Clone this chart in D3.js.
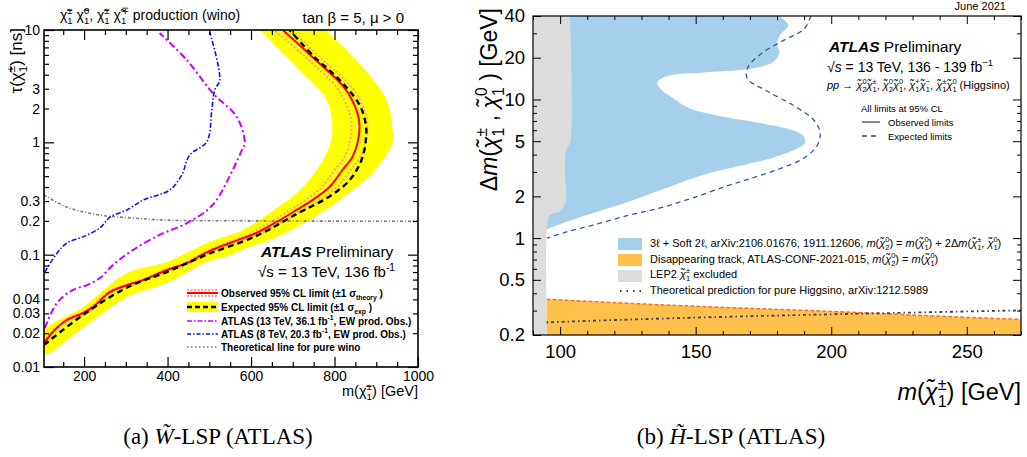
<!DOCTYPE html>
<html>
<head>
<script src="https://d3js.org/d3.v7.min.js"></script>
<style>
body {margin: 0; background-color: #fff; overflow: hidden;}
text {font-family: "Liberation Sans", Arial, sans-serif;}
</style>
</head>
<body>
<div id="canvas"></div>
<script type="text/javascript">

// ---------- left panel: wino LSP (tau vs chargino mass) ----------
var winoObsM   = [104,125,159,197,221,262,303,341,398,446,494,549,613,669,709,747,788,819,843,855,860,855,824,747,676];
var winoObsTau = [0.0163,0.0205,0.0262,0.0302,0.0341,0.0465,0.0536,0.0594,0.073,0.0841,0.105,0.127,0.156,0.203,0.25,0.306,0.40,0.567,0.74,0.986,1.37,1.82,3.05,5.75,10];
var winoObsLoM = [104,122,155,193,217,257,298,336,393,440,487,540,602,655,693,730,770,800,824,836,841,836,806,730,655];
var winoObsHiM = [106,128,163,201,225,267,308,346,403,452,501,558,624,683,725,764,806,838,862,874,879,874,842,764,697];

var winoExpM   = [104,197,303,398,494,613,709,788,836,865,875,875,860,812,752,692];
var winoExpTau = [0.0157,0.029,0.051,0.070,0.100,0.147,0.23,0.33,0.46,0.70,1.05,1.43,2.15,3.6,5.75,10];

var bandOuterM   = [779,867,925,939,939,891,812,740,645,597,549,494,398,303,197,104];
var bandOuterTau = [10,4.69,2.38,1.29,0.986,0.533,0.306,0.203,0.135,0.117,0.099,0.086,0.0559,0.0419,0.0222,0.013];
var bandInnerM   = [104,197,303,398,494,580,645,724,781,795,781,709,621];
var bandInnerTau = [0.0209,0.0341,0.0686,0.086,0.127,0.166,0.235,0.40,0.80,1.29,2.38,4.69,10];

var atlas13M   = [106,135,173,207,238,269,317,381,446,508,556,578,585,566,508,446,381];
var atlas13Tau = [0.0222,0.0371,0.0484,0.0536,0.0619,0.0807,0.110,0.150,0.191,0.277,0.567,0.853,0.986,1.68,2.75,5.4,9.4];

var atlas8M   = [106,135,159,197,238,262,303,341,405,434,453,494,506,513,525,501];
var atlas8Tau = [0.070,0.103,0.127,0.144,0.173,0.216,0.25,0.306,0.376,0.512,0.771,1.01,1.94,2.92,3.59,9.6];

var winoTheoM   = [104,159,238,317,398,597,1000];
var winoTheoTau = [0.34,0.265,0.225,0.212,0.203,0.200,0.198];

var winoMassTicks = [200,400,600,800,1000];
var winoTauLabels = [0.01,0.02,0.03,0.04,0.1,0.2,0.3,1,2,3,10];

// ---------- right panel: higgsino LSP (dm vs chargino mass) ----------
var softM  = [180.8,184.1,181.1,180.0,180.8,178.6,171.2,154.2,139.4,135.8,136.9,141.7,147.9,157.9,172.7,183.7,189.6,190.4,187.4,178.6,166.4,154.2,139.4,123.2,111.0,100,95.2];
var softDm = [40,34.4,29.1,25.5,21.6,18.6,16.8,15.7,14.7,13.3,12.0,10.2,8.6,7.67,6.82,6.17,5.49,4.89,4.42,3.80,3.33,2.91,2.31,1.77,1.49,1.26,1.16];

var softExpM  = [192.5,190.0,182.6,174.5,169.3,169.0,176.3,186.7,193.7,195.9,194.8,189.6,181.1,170.1,161.6,149.0,136.9,124.7,112.1,102.5,95.2];
var softExpDm = [40,32.2,26.8,21.6,17.1,14.2,11.5,8.91,7.05,5.77,4.65,3.74,3.17,2.68,2.38,1.95,1.65,1.45,1.24,1.11,1.0];

var lepM  = [103.65,103.65,102.5,101.8,102.2,100,96.3,95.2,95.2];
var lepDm = [40,4.8,4.5,2.91,1.86,1.57,1.47,1.22,0.2];

var dtM  = [95,150,200,250,270];
var dtDm = [0.362,0.322,0.296,0.268,0.259];

var higgsTheoM  = [95,150,200,270];
var higgsTheoDm = [0.247,0.267,0.282,0.301];

var higgsMassTicks = [100,150,200,250];
var higgsDmLabels = [0.2,0.5,1,2,5,10,20,40];
var higgsDmMinor = [0.3,0.4,0.6,0.7,0.8,0.9,3,4,6,7,8,9,30];

var CHI = "\u03C7\u0303";

function zip(a, b) { return a.map(function (v, i) { return [v, b[i]]; }); }
function chi(sup, sub, it) { return {c: CHI, sup: sup, sub: sub, ci: it}; }

// text with sub/superscripts built from tspans
function rich(g, x, y, fs, parts) {
    var t = g.append("text").attr("x", x).attr("y", y).attr("font-size", fs);
    var cur = 0, pend = 0;
    function span(str, off, scale) {
        var s = t.append("tspan").text(str).attr("dy", off - cur);
        if (scale) s.attr("font-size", fs * scale);
        if (pend) { s.attr("dx", pend); pend = 0; }
        cur = off;
        return s;
    }
    parts.forEach(function (p) {
        if (typeof p === "string") { span(p, 0); return; }
        if (p.i) { span(p.i, 0).attr("font-style", "italic"); return; }
        if (p.b) {
            var s = span(p.b, 0).attr("font-weight", "bold");
            if (p.it) s.attr("font-style", "italic");
            return;
        }
        if (p.c) {
            var c = span(p.c, 0);
            if (p.ci) c.attr("font-style", "italic");
        }
        var w = 0;
        if (p.sup != null) {
            var a = span(p.sup, -0.42 * fs, 0.68);
            w = a.node().getComputedTextLength();
        }
        if (p.sub != null) {
            var b = span(p.sub, 0.3 * fs, 0.68);
            if (p.sup != null) {
                b.attr("dx", -w);
                var w2 = b.node().getComputedTextLength();
                pend = Math.max(0, w - w2);
            }
        }
    });
    return t;
}

var svg = d3.select("#canvas").append("svg")
        .attr("width", 1027)
        .attr("height", 457);

// =================== LEFT PANEL ===================
var xL = d3.scaleLinear().domain([104, 1000]).range([44, 418]);
var yL = d3.scaleLog().domain([0.01, 10]).range([367, 30]);

var lineL = d3.line()
        .x(function (d) { return xL(d[0]); })
        .y(function (d) { return yL(d[1]); })
        .curve(d3.curveCatmullRom.alpha(0.5));

svg.append("clipPath").attr("id", "clipL")
    .append("rect").attr("x", 44).attr("y", 30).attr("width", 374).attr("height", 337);

var gL = svg.append("g");
var plotL = gL.append("g").attr("clip-path", "url(#clipL)");

// expected +-1 sigma band
plotL.append("path")
    .attr("d", lineL(zip(bandOuterM, bandOuterTau).concat(zip(bandInnerM, bandInnerTau))) + "Z")
    .attr("fill", "#ffff00");

plotL.append("path").attr("d", lineL(zip(winoTheoM, winoTheoTau)))
    .attr("fill", "none").attr("stroke", "#7a7a7a").attr("stroke-width", 1.6)
    .attr("stroke-dasharray", "3,2,1,2");

plotL.append("path").attr("d", lineL(zip(atlas13M, atlas13Tau)))
    .attr("fill", "none").attr("stroke", "#cc00ff").attr("stroke-width", 2)
    .attr("stroke-dasharray", "7,3,2,3");

plotL.append("path").attr("d", lineL(zip(atlas8M, atlas8Tau)))
    .attr("fill", "none").attr("stroke", "#1010ff").attr("stroke-width", 1.6)
    .attr("stroke-dasharray", "5,2,1.5,2");

[winoObsLoM, winoObsHiM].forEach(function (m) {
    plotL.append("path").attr("d", lineL(zip(m, winoObsTau)))
        .attr("fill", "none").attr("stroke", "#ff9a9a").attr("stroke-width", 2)
        .attr("stroke-dasharray", "2,2");
});

plotL.append("path").attr("d", lineL(zip(winoObsM, winoObsTau)))
    .attr("fill", "none").attr("stroke", "#ff0000").attr("stroke-width", 2);

plotL.append("path").attr("d", lineL(zip(winoExpM, winoExpTau)))
    .attr("fill", "none").attr("stroke", "#000").attr("stroke-width", 2.4)
    .attr("stroke-dasharray", "6,4");

// axes (inward ticks, mirrored)
var tauMinor = [];
[0.01, 0.1, 1].forEach(function (dec) {
    for (var k = 2; k <= 9; k++) tauMinor.push(+(k * dec).toPrecision(3));
});
var fmtL = d3.format("~g");
function tauLab(d) { return winoTauLabels.indexOf(d) >= 0 ? fmtL(d) : ""; }
var massMinorL = d3.range(150, 1000, 50).filter(function (v) { return v % 200 !== 0; });

function styleAxis(g, fs) {
    g.attr("font-size", fs).attr("font-family", "Liberation Sans, Arial, sans-serif");
    g.select(".domain").remove();
    g.selectAll("line").attr("stroke", "#000").attr("stroke-width", 1.2);
}

gL.append("g").attr("transform", "translate(0,367)")
    .call(d3.axisBottom(xL).tickValues(winoMassTicks).tickSize(-10).tickPadding(4).tickFormat(d3.format("d")))
    .call(styleAxis, 14);
gL.append("g").attr("transform", "translate(0,367)")
    .call(d3.axisBottom(xL).tickValues(massMinorL).tickSize(-5).tickFormat(""))
    .call(styleAxis, 14);
gL.append("g").attr("transform", "translate(0,30)")
    .call(d3.axisTop(xL).tickValues(winoMassTicks).tickSize(-10).tickFormat(""))
    .call(styleAxis, 14);
gL.append("g").attr("transform", "translate(0,30)")
    .call(d3.axisTop(xL).tickValues(massMinorL).tickSize(-5).tickFormat(""))
    .call(styleAxis, 14);

gL.append("g").attr("transform", "translate(44,0)")
    .call(d3.axisLeft(yL).tickValues([0.01, 0.1, 1, 10]).tickSize(-10).tickPadding(4).tickFormat(fmtL))
    .call(styleAxis, 14);
gL.append("g").attr("transform", "translate(44,0)")
    .call(d3.axisLeft(yL).tickValues(tauMinor).tickSize(-5).tickPadding(4).tickFormat(tauLab))
    .call(styleAxis, 14);
gL.append("g").attr("transform", "translate(418,0)")
    .call(d3.axisRight(yL).tickValues([0.01, 0.1, 1, 10]).tickSize(-10).tickFormat(""))
    .call(styleAxis, 14);
gL.append("g").attr("transform", "translate(418,0)")
    .call(d3.axisRight(yL).tickValues(tauMinor).tickSize(-5).tickFormat(""))
    .call(styleAxis, 14);

gL.append("rect").attr("x", 44).attr("y", 30).attr("width", 374).attr("height", 337)
    .attr("fill", "none").attr("stroke", "#000").attr("stroke-width", 1.6);

// titles and labels
rich(gL, 60, 20, 14, [chi("\u00B1", "1"), " ", chi("0", "1"), ", ", chi("\u00B1", "1"), " ", chi("\u2213", "1"), " production (wino)"]);
rich(gL, 404, 23, 15, ["tan \u03B2 = 5, \u03BC > 0"]).attr("text-anchor", "end");
rich(gL, 0, 0, 17, ["\u03C4(", chi("\u00B1", "1"), ") [ns]"])
    .attr("text-anchor", "end").attr("transform", "translate(22,28) rotate(-90)");
rich(gL, 418, 396, 14.5, ["m(", chi("\u00B1", "1"), ") [GeV]"]).attr("text-anchor", "end");

rich(gL, 261, 257, 15.5, [{b: "ATLAS", it: true}, " Preliminary"]);
rich(gL, 258, 277, 15, ["\u221As = 13 TeV, 136 fb", {sup: "-1"}]);

// legend
var legL = gL.append("g");
var ly = [293, 307, 321, 334, 347];
legL.append("rect").attr("x", 187).attr("y", ly[1] - 5).attr("width", 31).attr("height", 10).attr("fill", "#ffff00");
legL.append("line").attr("x1", 187).attr("x2", 218).attr("y1", ly[1]).attr("y2", ly[1])
    .attr("stroke", "#000").attr("stroke-width", 2.4).attr("stroke-dasharray", "5,3");
[-3, 3].forEach(function (o) {
    legL.append("line").attr("x1", 187).attr("x2", 218).attr("y1", ly[0] + o).attr("y2", ly[0] + o)
        .attr("stroke", "#ff9a9a").attr("stroke-width", 1.8).attr("stroke-dasharray", "2,1.5");
});
legL.append("line").attr("x1", 187).attr("x2", 218).attr("y1", ly[0]).attr("y2", ly[0])
    .attr("stroke", "#ff0000").attr("stroke-width", 2);
legL.append("line").attr("x1", 187).attr("x2", 218).attr("y1", ly[2]).attr("y2", ly[2])
    .attr("stroke", "#cc00ff").attr("stroke-width", 1.6).attr("stroke-dasharray", "5,2,1.5,2");
legL.append("line").attr("x1", 187).attr("x2", 218).attr("y1", ly[3]).attr("y2", ly[3])
    .attr("stroke", "#1010ff").attr("stroke-width", 1.4).attr("stroke-dasharray", "4,2,1.5,2");
legL.append("line").attr("x1", 187).attr("x2", 218).attr("y1", ly[4]).attr("y2", ly[4])
    .attr("stroke", "#7a7a7a").attr("stroke-width", 1.4).attr("stroke-dasharray", "1.5,2.5");

var legTexts = [
    ["Observed 95% CL limit (\u00B11 \u03C3", {sub: "theory"}, " )"],
    ["Expected 95% CL limit (\u00B11 \u03C3", {sub: "exp"}, " )"],
    ["ATLAS (13 TeV, 36.1 fb", {sup: "-1"}, ", EW prod. Obs.)"],
    ["ATLAS (8 TeV, 20.3 fb", {sup: "-1"}, ", EW prod. Obs.)"],
    ["Theoretical line for pure wino"]
];
legTexts.forEach(function (p, i) {
    rich(legL, 221, ly[i] + 3.5, 10, p).attr("font-weight", "bold");
});

// caption
var capA = svg.append("text").attr("x", 218).attr("y", 444).attr("text-anchor", "middle")
    .attr("font-size", 23).style("font-family", "Liberation Serif, Times New Roman, serif");
capA.append("tspan").text("(a)  ");
capA.append("tspan").text("W\u0303").attr("font-style", "italic");
capA.append("tspan").text("-LSP (ATLAS)");

// =================== RIGHT PANEL ===================
var xR = d3.scaleLinear().domain([90, 270]).range([533, 1021]);
var yR = d3.scaleLog().domain([0.2, 40]).range([335, 16]);

var lineR = d3.line()
        .x(function (d) { return xR(d[0]); })
        .y(function (d) { return yR(d[1]); })
        .curve(d3.curveCatmullRom.alpha(0.5));

svg.append("clipPath").attr("id", "clipR")
    .append("rect").attr("x", 533).attr("y", 16).attr("width", 488).attr("height", 319);

var gR = svg.append("g");
var plotR = gR.append("g").attr("clip-path", "url(#clipR)");

// 3l + soft 2l excluded region
var last = softDm[softDm.length - 1];
plotR.append("path")
    .attr("d", lineR(zip(softM, softDm)) + "L" + xR(90) + "," + yR(last) + "L" + xR(90) + "," + yR(40) + "Z")
    .attr("fill", "#a6cfec");

// disappearing track region
plotR.append("path")
    .attr("d", d3.area()
        .x(function (d) { return xR(d[0]); })
        .y0(yR(0.2))
        .y1(function (d) { return yR(d[1]); })
        .curve(d3.curveMonotoneX)(zip(dtM, dtDm)))
    .attr("fill", "#ffc04c");
plotR.append("path")
    .attr("d", d3.line().x(function (d) { return xR(d[0]); }).y(function (d) { return yR(d[1]); })
        .curve(d3.curveMonotoneX)(zip(dtM, dtDm)))
    .attr("fill", "none").attr("stroke", "#e8792b").attr("stroke-width", 1.5).attr("stroke-dasharray", "4,2");

// LEP2
plotR.append("path")
    .attr("d", lineR(zip(lepM, lepDm)) + "L" + xR(90) + "," + yR(0.2) + "L" + xR(90) + "," + yR(40) + "Z")
    .attr("fill", "#dcdcdc");

// pure higgsino prediction
plotR.append("path")
    .attr("d", d3.line().x(function (d) { return xR(d[0]); }).y(function (d) { return yR(d[1]); })
        .curve(d3.curveMonotoneX)(zip(higgsTheoM, higgsTheoDm)))
    .attr("fill", "none").attr("stroke", "#3c4250").attr("stroke-width", 1.8)
    .attr("stroke-dasharray", "1.5,3,3,3");

// expected limit
plotR.append("path").attr("d", lineR(zip(softExpM, softExpDm)))
    .attr("fill", "none").attr("stroke", "#2c5d9a").attr("stroke-width", 1.3)
    .attr("stroke-dasharray", "5,4");

var massMinorR = d3.range(90, 271, 10).filter(function (v) { return v % 50 !== 0; });
var fmtR = d3.format("~g");

gR.append("g").attr("transform", "translate(0,335)")
    .call(d3.axisBottom(xR).tickValues(higgsMassTicks).tickSize(-8).tickPadding(10).tickFormat(fmtR))
    .call(styleAxis, 18.5);
gR.append("g").attr("transform", "translate(0,335)")
    .call(d3.axisBottom(xR).tickValues(massMinorR).tickSize(-4).tickFormat(""))
    .call(styleAxis, 18.5);
gR.append("g").attr("transform", "translate(0,16)")
    .call(d3.axisTop(xR).tickValues(higgsMassTicks).tickSize(-8).tickFormat(""))
    .call(styleAxis, 18.5);
gR.append("g").attr("transform", "translate(0,16)")
    .call(d3.axisTop(xR).tickValues(massMinorR).tickSize(-4).tickFormat(""))
    .call(styleAxis, 18.5);
gR.append("g").attr("transform", "translate(533,0)")
    .call(d3.axisLeft(yR).tickValues(higgsDmLabels).tickSize(-8).tickPadding(8).tickFormat(fmtR))
    .call(styleAxis, 18.5);
gR.append("g").attr("transform", "translate(533,0)")
    .call(d3.axisLeft(yR).tickValues(higgsDmMinor).tickSize(-4).tickFormat(""))
    .call(styleAxis, 18.5);
gR.append("g").attr("transform", "translate(1021,0)")
    .call(d3.axisRight(yR).tickValues(higgsDmLabels).tickSize(-8).tickFormat(""))
    .call(styleAxis, 18.5);
gR.append("g").attr("transform", "translate(1021,0)")
    .call(d3.axisRight(yR).tickValues(higgsDmMinor).tickSize(-4).tickFormat(""))
    .call(styleAxis, 18.5);
gR.selectAll("line").attr("stroke-width", 1);

gR.append("rect").attr("x", 533).attr("y", 16).attr("width", 488).attr("height", 319)
    .attr("fill", "none").attr("stroke", "#000").attr("stroke-width", 1.2);

// labels
rich(gR, 0, 0, 23, ["\u0394", {i: "m"}, "(", chi("\u00B1", "1", 1), " , ", chi("0", "1", 1), " ) [GeV]"])
    .attr("text-anchor", "end").attr("transform", "translate(497,8) rotate(-90)");
rich(gR, 1021, 400, 23.5, [{i: "m"}, "(", chi("\u00B1", "1", 1), ") [GeV]"]).attr("text-anchor", "end");

gR.append("text").attr("x", 1006).attr("y", 9.5).attr("text-anchor", "end").attr("font-size", 11).text("June 2021");

rich(gR, 829, 52, 15.5, [{b: "ATLAS", it: true}, " Preliminary"]);
rich(gR, 827, 72, 14, ["\u221A", {i: "s"}, " = 13 TeV, 136 - 139 fb", {sup: "\u22121"}]);
rich(gR, 827, 89, 11, [{i: "pp"}, " \u2192 ", chi("0", "2", 1), chi("\u00B1", "1", 1), ", ",
    chi("0", "2", 1), chi("0", "1", 1), ", ", chi("+", "1", 1), chi("\u2212", "1", 1), ", ",
    chi("\u00B1", "1", 1), chi("0", "1", 1), " (Higgsino)"]);
gR.append("text").attr("x", 861).attr("y", 112).attr("font-size", 9.5).text("All limits at 95% CL");
gR.append("line").attr("x1", 862).attr("x2", 880).attr("y1", 122).attr("y2", 122)
    .attr("stroke", "#444").attr("stroke-width", 1.3);
gR.append("text").attr("x", 888).attr("y", 126).attr("font-size", 9.5).text("Observed limits");
gR.append("line").attr("x1", 862).attr("x2", 880).attr("y1", 136).attr("y2", 136)
    .attr("stroke", "#444").attr("stroke-width", 1.3).attr("stroke-dasharray", "5,4");
gR.append("text").attr("x", 888).attr("y", 140).attr("font-size", 9.5).text("Expected limits");

// legend
var legR = gR.append("g");
legR.append("rect").attr("x", 618).attr("y", 238).attr("width", 24).attr("height", 12).attr("fill", "#a6cfec");
legR.append("rect").attr("x", 618).attr("y", 254).attr("width", 24).attr("height", 12).attr("fill", "#ffc04c");
legR.append("rect").attr("x", 618).attr("y", 270).attr("width", 24).attr("height", 12).attr("fill", "#dcdcdc");
legR.append("line").attr("x1", 620).attr("x2", 642).attr("y1", 291).attr("y2", 291)
    .attr("stroke", "#3c4250").attr("stroke-width", 1.8).attr("stroke-dasharray", "1.5,5");

var ell = "\u2113";
rich(legR, 650, 247, 11, ["3" + ell + " + Soft 2" + ell + ", arXiv:2106.01676, 1911.12606, ", {i: "m"}, "(", chi("0", "2", 1), ") = ",
    {i: "m"}, "(", chi("0", "1", 1), ") + 2\u0394", {i: "m"}, "(", chi("\u00B1", "1", 1), ", ", chi("0", "1", 1), ")"]);
rich(legR, 650, 263, 11, ["Disappearing track, ATLAS-CONF-2021-015, ", {i: "m"}, "(", chi("0", "2", 1), ") = ",
    {i: "m"}, "(", chi("0", "1", 1), ")"]);
rich(legR, 650, 278, 11, ["LEP2 ", chi("\u00B1", "1", 1), " excluded"]);
rich(legR, 650, 294, 11, ["Theoretical prediction for pure Higgsino, arXiv:1212.5989"]);

var capB = svg.append("text").attr("x", 731).attr("y", 444).attr("text-anchor", "middle")
    .attr("font-size", 23).style("font-family", "Liberation Serif, Times New Roman, serif");
capB.append("tspan").text("(b)  ");
capB.append("tspan").text("H\u0303").attr("font-style", "italic");
capB.append("tspan").text("-LSP (ATLAS)");

</script>
</body>
</html>
